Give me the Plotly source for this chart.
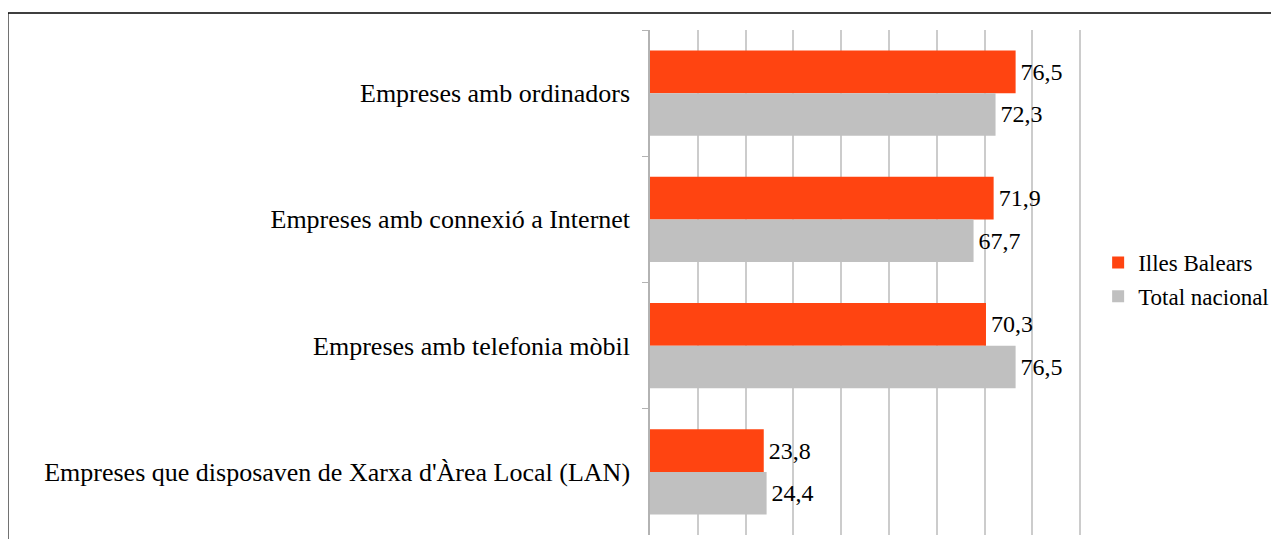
import plotly.graph_objects as go

categories = [
    "Empreses amb ordinadors",
    "Empreses amb connexió a Internet",
    "Empreses amb telefonia mòbil",
    "Empreses que disposaven de Xarxa d'Àrea Local (LAN)",
]
series_names = ["Illes Balears", "Total nacional"]
illes_balears = [76.5, 71.9, 70.3, 23.8]
total_nacional = [72.3, 67.7, 76.5, 24.4]
colors = ["#FF4411", "#C0C0C0"]

# figure is placed by the page at (8, 8); coordinates below are figure pixels
W, H = 1271, 531
XMAX = 90.6
L, T, B = 642, 22, 527
R = L + 430 / 90 * XMAX

font = "Liberation Serif, Times New Roman, serif"

fig = go.Figure()
for name, vals, col in zip(series_names, [illes_balears, total_nacional], colors):
    fig.add_trace(go.Bar(
        y=categories, x=vals, name=name, orientation="h",
        marker=dict(color=col, line=dict(width=0)),
        texttemplate="\u200a%{x:.1f}", textposition="outside",
        textfont=dict(family=font, size=24, color="#000000"),
        cliponaxis=False, legendgroup=name,
    ))

def px_x(p):
    return (p - L) / (R - L)

def px_y(p):
    return (B - p) / (B - T)

fig.update_layout(
    width=W, height=H,
    margin=dict(l=L, r=W - R, t=T, b=H - B, pad=0),
    barmode="group", bargap=0.325, bargroupgap=0,
    separators=",.",
    plot_bgcolor="white", paper_bgcolor="white",
    font=dict(family=font, size=23, color="#000000"),
    showlegend=True,
    legend=dict(
        x=px_x(1090), y=px_y(233), xanchor="left", yanchor="top",
        font=dict(family=font, size=23, color="#000000"),
        bgcolor="rgba(0,0,0,0)", itemwidth=30,
        traceorder="grouped", tracegroupgap=1,
    ),
    xaxis=dict(
        range=[0, XMAX], tick0=0, dtick=10, showgrid=True, gridcolor="#CCCCCC", gridwidth=1.5,
        showticklabels=False, zeroline=False, showline=False, fixedrange=True,
    ),
    yaxis=dict(
        autorange="reversed", showline=True, linecolor="#B3B3B3", linewidth=1.5,
        ticks="outside", tickson="boundaries", ticklen=6, tickcolor="#B3B3B3",
        tickfont=dict(family=font, size=26, color="#000000"),
        ticklabelstandoff=13, showgrid=False,
    ),
    shapes=[
        dict(type="rect", xref="paper", yref="paper",
             x0=px_x(0), x1=px_x(1400), y0=px_y(700), y1=px_y(5),
             line=dict(color="#000000", width=1.5), fillcolor="rgba(0,0,0,0)", layer="above"),
    ],
)

fig.write_html("out.html")
